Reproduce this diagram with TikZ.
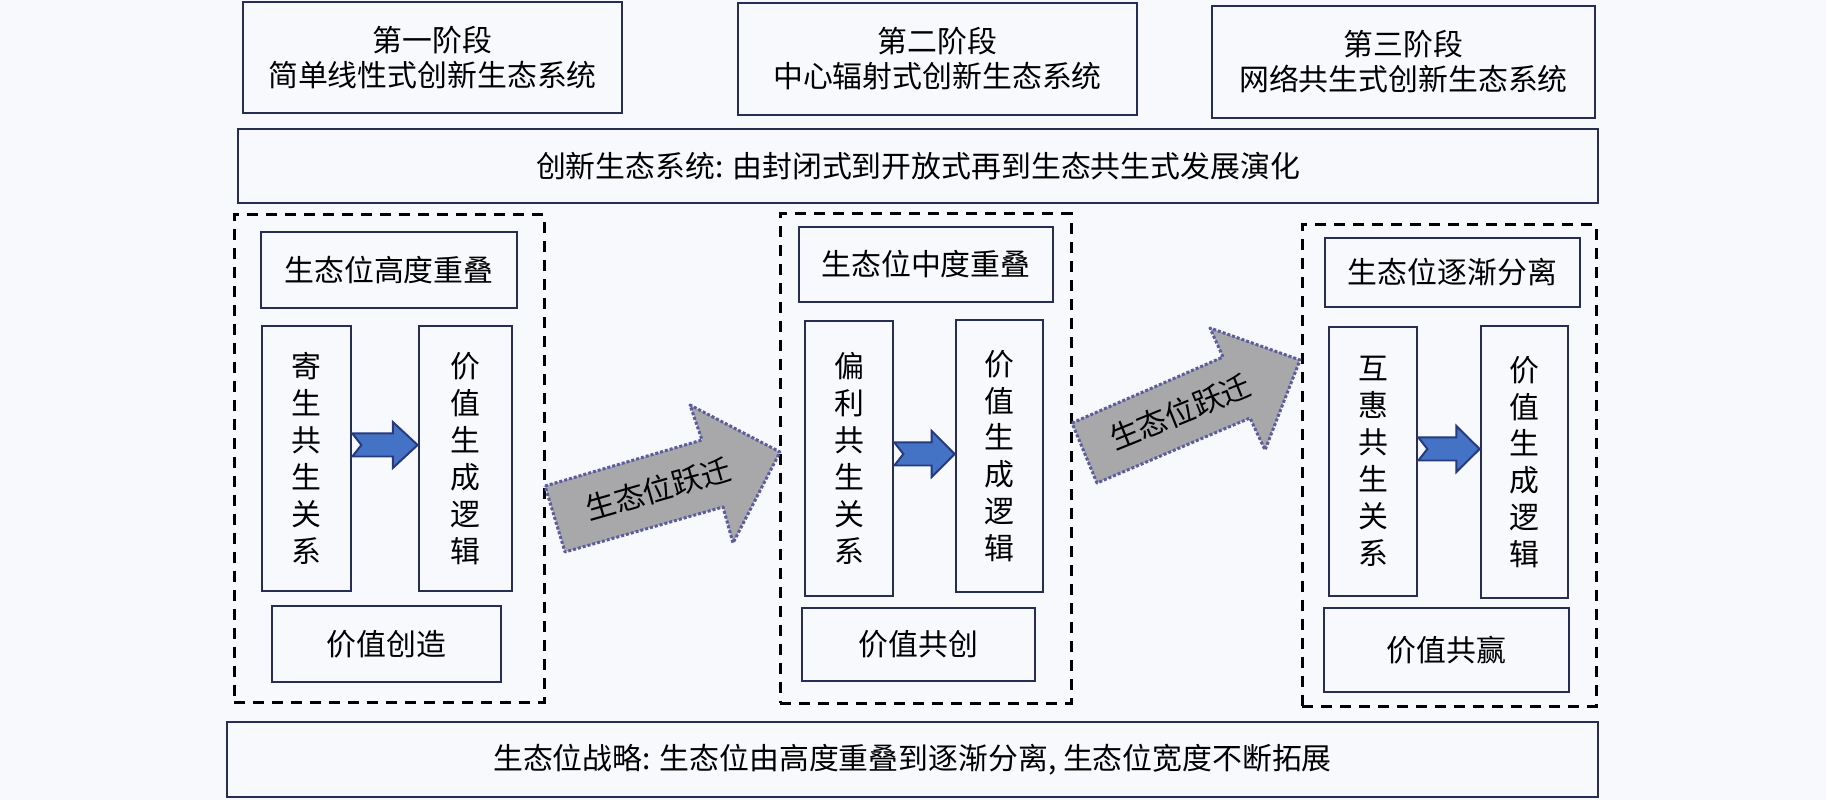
\documentclass[tikz,border=0pt]{standalone}
\usepackage{fontspec}
\setmainfont{Noto Sans CJK SC}
\usetikzlibrary{calc}
\definecolor{bg}{RGB}{248,249,253}
\definecolor{navy}{RGB}{40,45,85}
\definecolor{arrfill}{RGB}{68,114,196}
\definecolor{arrdraw}{RGB}{38,58,128}
\definecolor{bigfill}{RGB}{168,168,170}
\definecolor{bigdraw}{RGB}{92,92,160}
\newcommand\mkbox[7]{\node[#1,minimum width={(#5-#3)*0.02cm},minimum height={(#6-#4)*0.02cm}] (#2) at ({(#3+#5)/2},{(#4+#6)/2}) {#7};}
\newcommand\smallarr[4]{%
  \coordinate (#4y) at (0,#3);
  \path (#1.east |- #4y) coordinate (#4s) (#2.west |- #4y) coordinate (#4e);
  \coordinate (#4h) at ($(#4s)!0.62!(#4e)$);
  \draw[smarrow] ($(#4s)+(0,-11.5)$) -- ($(#4h)+(0,-11.5)$) -- ($(#4h)+(0,-23)$) -- (#4e)
    -- ($(#4h)+(0,23)$) -- ($(#4h)+(0,11.5)$) -- ($(#4s)+(0,11.5)$) -- ($(#4s)+(9,0)$) -- cycle;}
\begin{document}
\begin{tikzpicture}[x=0.02cm,y=-0.02cm,
  boxst/.style={draw=navy,line width=0.055cm,inner sep=0pt,align=center,font=\fontsize{17}{20}\selectfont},
  vbox/.style={boxst,font=\fontsize{17}{21}\selectfont},
  dashbox/.style={draw=black,line width=0.06cm,dash pattern=on 0.22cm off 0.16cm,inner sep=0pt},
  smarrow/.style={fill=arrfill,draw=arrdraw,line width=0.04cm,line join=miter},
  bigarrow/.style={fill=bigfill,draw=bigdraw,line width=0.06cm,dash pattern=on 0.06cm off 0.04cm,line join=round},
  arrtext/.style={inner sep=0pt,font=\fontsize{17}{20}\selectfont}]
\fill[bg] (0,0) rectangle (1826,800);
\useasboundingbox (0,0) rectangle (1826,800);
% stage boxes
\mkbox{boxst}{S1}{243}{2}{622}{113}{第一阶段\\简单线性式创新生态系统}
\mkbox{boxst}{S2}{738}{3}{1137}{115}{第二阶段\\中心辐射式创新生态系统}
\mkbox{boxst}{S3}{1212}{6}{1595}{118}{第三阶段\\网络共生式创新生态系统}
\mkbox{boxst}{W}{238}{129}{1598}{203}{创新生态系统: 由封闭式到开放式再到生态共生式发展演化}
% dashed groups
\mkbox{dashbox}{D1}{234}{215}{544}{702}{}
\mkbox{dashbox}{D2}{780}{214}{1071}{703}{}
\mkbox{dashbox}{D3}{1302}{225}{1596}{706}{}
% group 1
\mkbox{boxst}{T1}{261}{232}{517}{308}{生态位高度重叠}
\mkbox{vbox}{L1}{262}{326}{351}{591}{寄\\生\\共\\生\\关\\系}
\mkbox{vbox}{R1}{419}{326}{512}{591}{价\\值\\生\\成\\逻\\辑}
\mkbox{boxst}{B1}{272}{606}{501}{682}{价值创造}
% group 2
\mkbox{boxst}{T2}{799}{227}{1053}{302}{生态位中度重叠}
\mkbox{vbox}{L2}{805}{321}{893}{596}{偏\\利\\共\\生\\关\\系}
\mkbox{vbox}{R2}{956}{320}{1043}{592}{价\\值\\生\\成\\逻\\辑}
\mkbox{boxst}{B2}{802}{608}{1035}{681}{价值共创}
% group 3
\mkbox{boxst}{T3}{1325}{238}{1580}{307}{生态位逐渐分离}
\mkbox{vbox}{L3}{1329}{327}{1417}{596}{互\\惠\\共\\生\\关\\系}
\mkbox{vbox}{R3}{1481}{326}{1568}{598}{价\\值\\生\\成\\逻\\辑}
\mkbox{boxst}{B3}{1324}{608}{1569}{692}{价值共赢}
% bottom
\mkbox{boxst}{BW}{227}{722}{1598}{797}{生态位战略: 生态位由高度重叠到逐渐分离, 生态位宽度不断拓展}
% small arrows
\smallarr{L1}{R1}{445}{a1}
\smallarr{L2}{R2}{454}{a2}
\smallarr{L3}{R3}{449}{a3}
% big arrows
\draw[bigarrow] (545,486) -- (702,440) -- (690,405) -- (780,452) -- (733,543) -- (723,507) -- (565,552) -- cycle;
\node[arrtext,rotate=16] (J1) at (658,489) {生态位跃迁};
\draw[bigarrow] (1072,423) -- (1223,357) -- (1210,328) -- (1300,360) -- (1265,450) -- (1250,418) -- (1097,483) -- cycle;
\node[arrtext,rotate=22] (J2) at (1180,412) {生态位跃迁};
\end{tikzpicture}
\end{document}
